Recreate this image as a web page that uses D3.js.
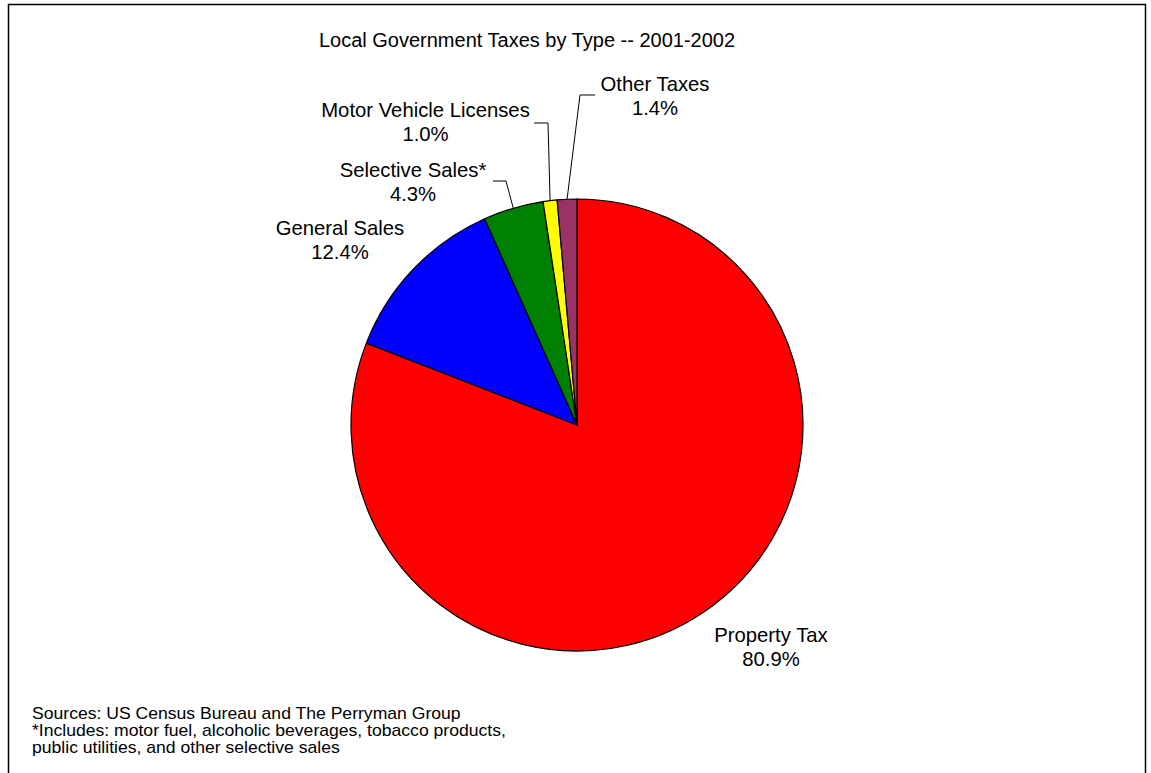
<!DOCTYPE html>
<html>
<head>
<meta charset="utf-8">
<script src="https://cdn.jsdelivr.net/npm/d3@7"></script>
<style>
  html, body { margin: 0; padding: 0; background: #fff; }
  svg text { font-family: "Liberation Sans", Arial, sans-serif; fill: #000; }
</style>
</head>
<body>
<div id="chart"></div>
<script>
// data, clockwise from 12 o'clock
const categories = ["Property Tax", "General Sales", "Selective Sales*", "Motor Vehicle Licenses", "Other Taxes"];
const shares = [80.9, 12.4, 4.3, 1.0, 1.4];
const sliceColors = ["#FF0000", "#0000FF", "#008000", "#FFFF00", "#993366"];
const title = "Local Government Taxes by Type -- 2001-2002";
const footnotes = [
    "Sources: US Census Bureau and The Perryman Group",
    "*Includes: motor fuel, alcoholic beverages, tobacco products,",
    "public utilities, and other selective sales"
];

// label layout (text centre x, first baseline y) and leader elbows
const labelLayout = {
    "Property Tax": { x: 771, y: 642 },
    "General Sales": { x: 340, y: 235 },
    "Selective Sales*": { x: 413, y: 177, elbow: [506, 181], end: 493 },
    "Motor Vehicle Licenses": { x: 425.5, y: 117, elbow: [548, 123], end: 534 },
    "Other Taxes": { x: 655, y: 91, elbow: [580, 95], end: 595 }
};

const width = 1151, height = 773;
const cx = 577, cy = 425, radius = 226;

const svg = d3.select("#chart")
    .append("svg")
    .attr("width", width)
    .attr("height", height);

// chart area border
svg.append("rect")
    .attr("x", 8.5)
    .attr("y", 4.5)
    .attr("width", 1137)
    .attr("height", 800)
    .attr("fill", "none")
    .attr("stroke", "#000")
    .attr("stroke-width", 1.5);

svg.append("text")
    .attr("x", 527)
    .attr("y", 47)
    .attr("text-anchor", "middle")
    .attr("font-size", 20)
    .text(title);

let data = categories.map((c, i) => ({ name: c, value: shares[i], color: sliceColors[i] }));

let pie = d3.pie()
    .sort(null)
    .value(d => d.value)
    .startAngle(0)
    .endAngle(2 * Math.PI);

let arc = d3.arc().innerRadius(0).outerRadius(radius);

let g = svg.append("g")
    .attr("transform", "translate(" + cx + "," + cy + ")");

let arcs = pie(data);

g.selectAll("path.slice")
    .data(arcs)
    .enter()
    .append("path")
    .attr("class", "slice")
    .attr("d", arc)
    .attr("fill", d => d.data.color)
    .attr("stroke", "#000")
    .attr("stroke-width", 1.2)
    .attr("stroke-linejoin", "round");

// leader lines from the slice edge to the label
arcs.filter(d => labelLayout[d.data.name].elbow).forEach(d => {
    let lay = labelLayout[d.data.name];
    let mid = (d.startAngle + d.endAngle) / 2;
    let sx = cx + radius * Math.sin(mid),
        sy = cy - radius * Math.cos(mid);
    svg.append("polyline")
        .attr("points", [[sx, sy], lay.elbow, [lay.end, lay.elbow[1]]].map(p => p.join(",")).join(" "))
        .attr("fill", "none")
        .attr("stroke", "#000")
        .attr("stroke-width", 1);
});

let labels = svg.append("g").attr("class", "labels");

arcs.forEach(d => {
    let lay = labelLayout[d.data.name];
    let t = labels.append("text")
        .attr("x", lay.x)
        .attr("y", lay.y)
        .attr("text-anchor", "middle")
        .attr("font-size", 20.3);
    t.append("tspan")
        .attr("x", lay.x)
        .text(d.data.name);
    t.append("tspan")
        .attr("x", lay.x)
        .attr("dy", 24)
        .text(d3.format(".1f")(d.data.value) + "%");
});

// footnote text is drawn slightly wide in the original
svg.append("g")
    .attr("transform", "translate(32,0) scale(1.1,1)")
    .append("text")
    .attr("x", 0)
    .attr("y", 719.5)
    .attr("font-size", 16)
    .selectAll("tspan")
    .data(footnotes)
    .enter()
    .append("tspan")
    .attr("x", 0)
    .attr("dy", (d, i) => i === 0 ? 0 : 16.6)
    .text(d => d);
</script>
</body>
</html>
